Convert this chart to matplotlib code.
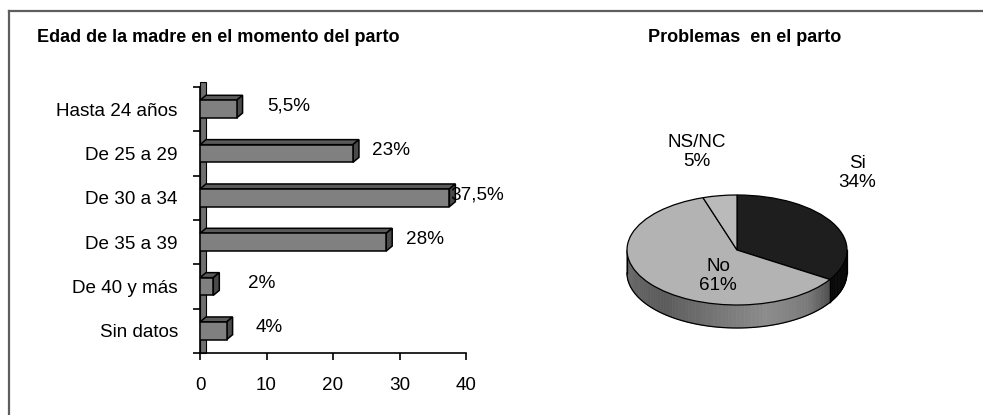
import numpy as np
import matplotlib
matplotlib.use("Agg")
import matplotlib.pyplot as plt
from matplotlib.patches import Polygon, Rectangle
from matplotlib.lines import Line2D

# Edad de la madre en el momento del parto
age_groups = ["Hasta 24 años", "De 25 a 29", "De 30 a 34", "De 35 a 39", "De 40 y más", "Sin datos"]
age_pct = [5.5, 23, 37.5, 28, 2, 4]
age_labels = ["5,5%", "23%", "37,5%", "28%", "2%", "4%"]

# Problemas en el parto
problem_names = ["Si", "No", "NS/NC"]
problem_pct = [34, 61, 5]

W, H, DPI = 983, 415, 100
FS = 13.6
plt.rcParams["font.family"] = ["Liberation Sans", "DejaVu Sans"]
plt.rcParams["font.size"] = FS

fig = plt.figure(figsize=(W / DPI, H / DPI), dpi=DPI)

# outer frame, only top and left edges
fig.add_artist(Line2D([9 / W, 1], [1 - 11 / H, 1 - 11 / H], color="#5e5e5e", lw=1.6))
fig.add_artist(Line2D([9 / W, 9 / W], [0, 1 - 11 / H], color="#5e5e5e", lw=1.6))

fig.text(37 / W, 1 - 37 / H, "Edad de la madre en el momento del parto",
         fontsize=13, fontweight="bold", va="center", ha="left")
fig.text(745 / W, 1 - 37 / H, "Problemas  en el parto",
         fontsize=13, fontweight="bold", va="center", ha="center")

# ---- bar chart with fake depth ----
x0, x1, y0, y1 = 200, 466, 87, 353
ax = fig.add_axes([x0 / W, 1 - y1 / H, (x1 - x0) / W, (y1 - y0) / H])
n = len(age_groups)
ypos = np.arange(n)
bar_h = 0.4
ax.set_xlim(0, 40)
ax.set_ylim(n - 0.5, -0.5)

px_x = 40 / (x1 - x0)
px_y = n / (y1 - y0)
dx, dy = 6 * px_x, 5 * px_y

# back wall strip along the vertical axis
ax.add_patch(Rectangle((0, -0.5 - dy), dx, n + dy, facecolor="#6e6e6e",
                       edgecolor="black", lw=0.8, clip_on=False, zorder=1))

ax.barh(ypos, age_pct, height=bar_h, color="#808080", edgecolor="black", lw=1.1, zorder=3)
for y, v in zip(ypos, age_pct):
    top = y - bar_h / 2
    bot = y + bar_h / 2
    ax.add_patch(Polygon([(0, top), (v, top), (v + dx, top - dy), (dx, top - dy)],
                         closed=True, facecolor="#5a5a5a", edgecolor="black", lw=1.1,
                         clip_on=False, zorder=2))
    ax.add_patch(Polygon([(v, top), (v + dx, top - dy), (v + dx, bot - dy), (v, bot)],
                         closed=True, facecolor="#4a4a4a", edgecolor="black", lw=1.1,
                         clip_on=False, zorder=2))

label_shift = [31, 19, 1, 20, 35, 29]
for y, v, lab, sh in zip(ypos, age_pct, age_labels, label_shift):
    ax.annotate(lab, (v, y), xytext=(sh, 3), textcoords="offset pixels",
                ha="left", va="center", fontsize=FS, zorder=5)

for s in ["top", "right"]:
    ax.spines[s].set_visible(False)
ax.spines["left"].set_linewidth(1.2)
ax.spines["bottom"].set_linewidth(1.2)
ax.set_yticks(ypos)
ax.set_yticklabels(age_groups)
ax.tick_params(axis="y", length=0, pad=16)
ax.set_yticks(np.arange(-0.5, n, 1), minor=True)
ax.tick_params(axis="y", which="minor", length=5, width=1.2)
ax.set_xticks([0, 10, 20, 30, 40])
ax.tick_params(axis="x", length=5, width=1.2, pad=12)
ax.patch.set_alpha(0)

# ---- 3D-looking pie ----
cx, cy, rx, ry = 737, 250, 110, 55
px0, px1, py0, py1 = 600, 900, 110, 360
pax = fig.add_axes([px0 / W, 1 - py1 / H, (px1 - px0) / W, (py1 - py0) / H])
colors = ["#1e1e1e", "#b3b3b3", "#bababa"]
wedges, _ = pax.pie(problem_pct, colors=colors, startangle=90, counterclock=False,
                    wedgeprops=dict(edgecolor="black", lw=0.9))
for w in wedges:
    w.set_zorder(3)
pax.set_aspect("auto")
pax.set_xlim(-(cx - px0) / rx, (px1 - cx) / rx)
pax.set_ylim(-(py1 - cy) / ry, (cy - py0) / ry)
pax.axis("off")

depth = 23 / ry

# grey level of the light rim along the front, by angle
rim_angles = [-180, -130, -75, -50, -30, 0]
rim_grey = [0.42, 0.36, 0.55, 0.48, 0.28, 0.2]

for w, dark in zip(wedges, [True, False, False]):
    a = max(w.theta1, -180)
    b = min(w.theta2, 0)
    if a >= b:
        continue
    steps = np.linspace(a, b, int((b - a) / 2) + 2)
    for t0, t1 in zip(steps[:-1], steps[1:]):
        g = 0.03 if dark else np.interp(0.5 * (t0 + t1), rim_angles, rim_grey)
        tt = np.radians(np.linspace(t0, t1, 4))
        pts = list(zip(np.cos(tt), np.sin(tt))) + list(zip(np.cos(tt[::-1]), np.sin(tt[::-1]) - depth))
        pax.add_patch(Polygon(pts, closed=True, facecolor=(g, g, g), edgecolor=(g, g, g),
                              lw=0.5, zorder=1))
    tt = np.radians(np.linspace(a, b, 60))
    pax.plot(np.cos(tt), np.sin(tt) - depth, color="black", lw=0.9, zorder=2)
    for t in (a, b):
        if -180 < t < 0:
            r = np.radians(t)
            pax.plot([np.cos(r)] * 2, [np.sin(r), np.sin(r) - depth], color="black", lw=0.9, zorder=2)
pax.plot([-1, -1], [0, -depth], color="black", lw=0.9, zorder=2)
pax.plot([1, 1], [0, -depth], color="black", lw=0.9, zorder=2)

label_xy = {"Si": (857, 173), "No": (718, 276), "NS/NC": (697, 152)}
for name, pct in zip(problem_names, problem_pct):
    lx, ly = label_xy[name]
    pax.text((lx - cx) / rx, (cy - ly) / ry, f"{name}\n{pct}%", ha="center", va="center",
             fontsize=FS, linespacing=1.15, zorder=5)

fig.savefig("out.png", dpi=DPI)
